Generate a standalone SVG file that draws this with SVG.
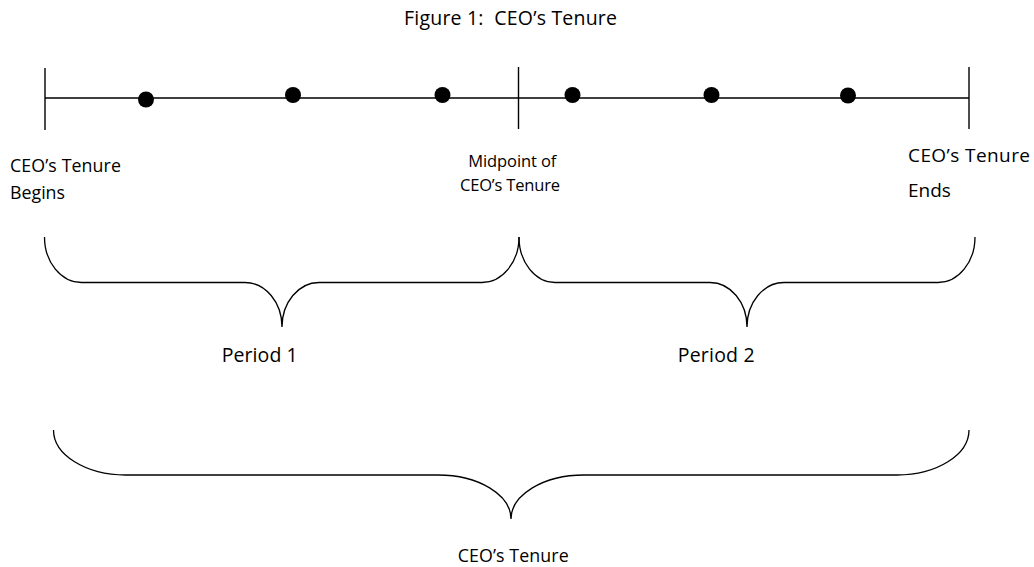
<svg xmlns="http://www.w3.org/2000/svg" width="1034" height="567" viewBox="0 0 1034 567">
  <style>
    .ln { stroke: #000; stroke-width: 1.4; fill: none; }
    .br { stroke: #000; stroke-width: 1.3; fill: none; }
    .dot { fill: #000; }
    .t { font-family: "Open Sans", "Liberation Sans", sans-serif; fill: #000; }
  </style>
  <rect width="1034" height="567" fill="#fff"/>
  <text id="title" class="t" x="404" y="24.5" font-size="19.5" textLength="213" xml:space="preserve">Figure 1:  CEO’s Tenure</text>

  <g id="connectors">
    <line class="ln" x1="45" y1="98" x2="969" y2="98"/>
    <line class="ln" x1="45" y1="68" x2="45" y2="130"/>
    <line class="ln" x1="518.5" y1="67" x2="518.5" y2="129"/>
    <line class="ln" x1="969" y1="67" x2="969" y2="129"/>
    <path class="br" d="M44.5 237 A37 45.5 0 0 0 81.5 282.5 L245 282.5 A37 44.5 0 0 1 282 327 A37 44.5 0 0 1 319 282.5 L482 282.5 A37 45.5 0 0 0 519 237"/>
    <path class="br" d="M519 237 A36 45.5 0 0 0 555 282.5 L710 282.5 A37 44.5 0 0 1 747 327 A37 44.5 0 0 1 784 282.5 L938 282.5 A37 45.5 0 0 0 975 237"/>
    <path class="br" d="M53.5 430 A72 45 0 0 0 125.5 475 L438 475 A73 44 0 0 1 511 519 A73 44 0 0 1 584 475 L897 475 A72 45 0 0 0 969 430"/>
  </g>

  <g id="dots">
    <circle id="dot1" class="dot" cx="146" cy="99.5" r="8"/>
    <circle id="dot2" class="dot" cx="293" cy="95" r="8"/>
    <circle id="dot3" class="dot" cx="442.5" cy="95" r="8"/>
    <circle id="dot4" class="dot" cx="572.5" cy="95" r="8"/>
    <circle id="dot5" class="dot" cx="711.5" cy="95" r="8"/>
    <circle id="dot6" class="dot" cx="848" cy="95.5" r="8"/>
  </g>

  <g id="label-begin">
    <text class="t" x="10" y="172.3" font-size="17.8" textLength="111">CEO’s Tenure</text>
    <text class="t" x="10" y="199" font-size="17.8">Begins</text>
  </g>
  <g id="label-mid">
    <text class="t" x="468.3" y="166.7" font-size="16.5" textLength="88">Midpoint of</text>
    <text class="t" x="460" y="191" font-size="16.5" textLength="100">CEO’s Tenure</text>
  </g>
  <g id="label-end">
    <text class="t" x="908" y="161.7" font-size="19" textLength="122">CEO’s Tenure</text>
    <text class="t" x="908" y="197.3" font-size="19">Ends</text>
  </g>
  <g id="label-period1">
    <text class="t" x="221.7" y="361.7" font-size="19.5" textLength="76">Period 1</text>
  </g>
  <g id="label-period2">
    <text class="t" x="677.7" y="361.7" font-size="19.5" textLength="77">Period 2</text>
  </g>
  <g id="label-tenure">
    <text class="t" x="457.7" y="562.3" font-size="17.8" textLength="111">CEO’s Tenure</text>
  </g>
</svg>
